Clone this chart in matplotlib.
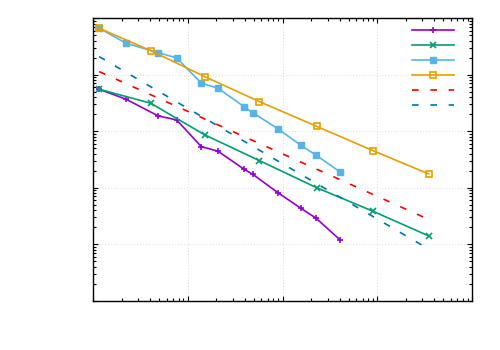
import numpy as np
import matplotlib
matplotlib.use("Agg")
import matplotlib.pyplot as plt
from matplotlib.lines import Line2D
from matplotlib.ticker import LogLocator, NullFormatter

# data (log-log axes)
x_fine = [1.16, 2.23, 4.85, 7.64, 13.9, 20.8, 39.3, 48.5, 88.9, 155.6, 226, 405]
purple = [5.53e-2, 3.68e-2, 1.87e-2, 1.58e-2, 5.33e-3, 4.43e-3,
          2.12e-3, 1.73e-3, 8.2e-4, 4.34e-4, 2.88e-4, 1.19e-4]
skyblue = [0.665, 0.361, 0.246, 0.198, 7.08e-2, 5.77e-2,
           2.72e-2, 2.13e-2, 1.11e-2, 5.65e-3, 3.76e-3, 1.9e-3]

x_coarse = [1.16, 4.06, 15.1, 56.9, 229, 896, 3490]
green = [5.53e-2, 3.13e-2, 8.61e-3, 3.02e-3, 1.0e-3, 3.84e-4, 1.4e-4]
orange = [0.665, 0.267, 9.25e-2, 3.34e-2, 1.22e-2, 4.54e-3, 1.75e-3]

ref_x = [1.16, 3490]
ref_red = [0.1135, 2.74e-4]
ref_blue = [0.209, 8.2e-5]

fig = plt.figure(figsize=(5, 3.5), dpi=100)
ax = fig.add_axes([0.186, 0.141, 0.758, 0.807])

lw = 1.2
ax.plot(x_fine, purple, color="#9400d3", lw=lw, marker="+", ms=5, mew=1.2)
ax.plot(x_coarse, green, color="#009e73", lw=lw, marker="x", ms=4, mew=1.2)
ax.plot(x_fine, skyblue, color="#56b4e9", lw=lw, marker="s", ms=4.5)
ax.plot(x_coarse, orange, color="#e69f00", lw=lw, marker="s", ms=5,
        mfc="none", mew=1.2)
ax.plot(ref_x, ref_red, color="#ff0000", lw=lw, dashes=(4, 7))
ax.plot(ref_x, ref_blue, color="#0072b2", lw=lw, dashes=(4, 7))

ax.set_xscale("log")
ax.set_yscale("log")
ax.set_xlim(1, 1e4)
ax.set_ylim(1e-5, 1)

ax.xaxis.set_major_locator(LogLocator(base=10, numticks=10))
ax.yaxis.set_major_locator(LogLocator(base=10, numticks=10))
ax.xaxis.set_minor_locator(LogLocator(base=10, subs=np.arange(2, 10), numticks=20))
ax.yaxis.set_minor_locator(LogLocator(base=10, subs=np.arange(2, 10), numticks=20))
ax.xaxis.set_minor_formatter(NullFormatter())
ax.yaxis.set_minor_formatter(NullFormatter())
ax.tick_params(which="both", direction="in", top=True, right=True,
               labelbottom=False, labelleft=False, width=0.8)
ax.tick_params(which="major", length=3.5)
ax.tick_params(which="minor", length=2)
for s in ax.spines.values():
    s.set_linewidth(1.0)

ax.grid(True, which="major", color="#dddddd", linestyle=(0, (1, 2)), lw=0.7)
ax.set_axisbelow(True)

handles = [
    Line2D([], [], color="#9400d3", lw=lw, marker="+", ms=5, mew=1.2),
    Line2D([], [], color="#009e73", lw=lw, marker="x", ms=4, mew=1.2),
    Line2D([], [], color="#56b4e9", lw=lw, marker="s", ms=4.5),
    Line2D([], [], color="#e69f00", lw=lw, marker="s", ms=5, mfc="none", mew=1.2),
    Line2D([], [], color="#ff0000", lw=lw, dashes=(4, 7)),
    Line2D([], [], color="#0072b2", lw=lw, dashes=(4, 7)),
]
leg = ax.legend(handles, [" "] * 6, loc="upper right", bbox_to_anchor=(0.992, 1.003),
                fontsize=8, handlelength=3.8, handletextpad=0.2,
                labelspacing=0.44, borderpad=0.3, markerscale=1,
                frameon=True, fancybox=False, edgecolor="none", facecolor="white",
                framealpha=1)

fig.savefig("out.png", dpi=100)
